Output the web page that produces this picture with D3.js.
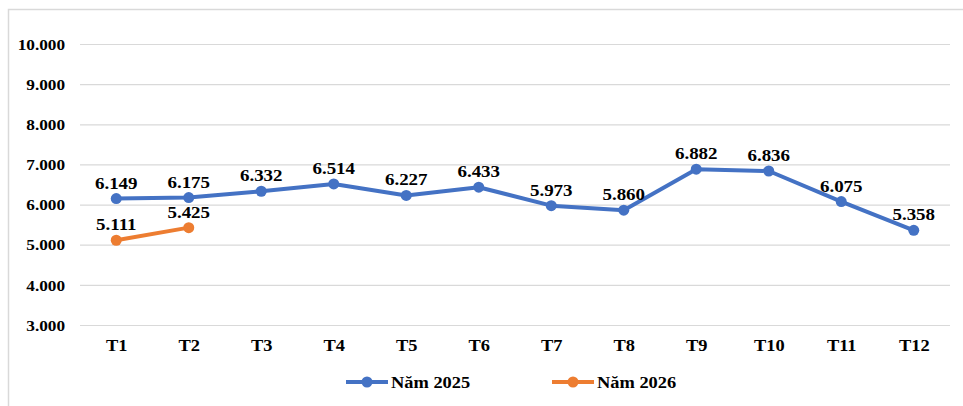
<!DOCTYPE html>
<html lang="vi">
<head>
  <meta charset="UTF-8">
  <title>Chart</title>
  <style>
    body { margin: 0; background: #fff; }
    text { font-family: 'Liberation Serif', 'Times New Roman', serif; font-weight: bold; fill: #000; }
  </style>
</head>
<body>
  <svg id="svg" width="963" height="406"></svg>
  <script src="https://d3js.org/d3.v7.min.js"></script>
  <script>
    const months = ['T1', 'T2', 'T3', 'T4', 'T5', 'T6', 'T7', 'T8', 'T9', 'T10', 'T11', 'T12']
    const values2025 = [6149, 6175, 6332, 6514, 6227, 6433, 5973, 5860, 6882, 6836, 6075, 5358]
    const values2026 = [5111, 5425]
    const yTicks = [3000, 4000, 5000, 6000, 7000, 8000, 9000, 10000]
    const seriesNames = ['Năm 2025', 'Năm 2026']
    const colors = ['#4472C4', '#ED7D31']

    const series = [values2025, values2026].map((vals, i) => ({
      name: seriesNames[i],
      color: colors[i],
      points: vals.map((v, j) => ({ month: months[j], value: v }))
    }))

    const vn = d3.formatLocale({ decimal: ',', thousands: '.', grouping: [3], currency: ['', ''] })
    const fmt = vn.format(',')
    const stretch = 'scale(1.15,1)'

    const svg = d3.select('#svg')

    // outer chart border (cropped on the right and bottom)
    svg.append('rect')
      .attr('x', 8.5).attr('y', 9.5)
      .attr('width', 1000).attr('height', 500)
      .attr('fill', 'none')
      .attr('stroke', '#d9d9d9')
      .attr('stroke-width', 1.5)

    const xScale = d3.scalePoint()
      .domain(months)
      .range([80, 950])
      .padding(0.5)
    const yScale = d3.scaleLinear()
      .domain([3000, 10000])
      .range([325, 44])

    // y axis + gridlines
    const leftAxis = d3.axisLeft(yScale)
      .tickValues(yTicks)
      .tickFormat(fmt)
      .tickSize(-870)
    const gy = svg.append('g')
      .attr('transform', 'translate(80,0)')
      .call(leftAxis)
    gy.select('.domain').remove()
    gy.selectAll('.tick line').attr('stroke', '#d9d9d9').attr('stroke-width', 1.2)
    gy.selectAll('.tick text')
      .attr('x', -13)
      .attr('dy', '0.35em')
      .attr('transform', stretch)
      .style('font-size', '15px')

    // x axis labels
    const bottomAxis = d3.axisBottom(xScale).tickSize(0)
    const gx = svg.append('g')
      .attr('transform', 'translate(0,325)')
      .call(bottomAxis)
    gx.select('.domain').remove()
    gx.selectAll('.tick text')
      .attr('y', 26)
      .attr('dy', 0)
      .attr('transform', stretch)
      .style('font-size', '16px')
    // keep tick text centred at the tick after stretch
    gx.selectAll('.tick').each(function () {
      d3.select(this).select('text').attr('x', 0)
    })

    const line = d3.line()
      .x(d => xScale(d.month))
      .y(d => yScale(d.value))

    const groups = svg.selectAll('g.series')
      .data(series)
      .enter()
      .append('g')
      .attr('class', 'series')

    groups.append('path')
      .attr('d', d => line(d.points))
      .attr('fill', 'none')
      .attr('stroke', d => d.color)
      .attr('stroke-width', 4)
      .attr('stroke-linejoin', 'round')

    groups.each(function (s) {
      const g = d3.select(this)
      g.selectAll('circle')
        .data(s.points)
        .enter()
        .append('circle')
        .attr('cx', d => xScale(d.month))
        .attr('cy', d => yScale(d.value))
        .attr('r', 5.5)
        .attr('fill', s.color)
      g.selectAll('text')
        .data(s.points)
        .enter()
        .append('text')
        .text(d => fmt(d.value))
        .attr('text-anchor', 'middle')
        .attr('transform', d => `translate(${xScale(d.month)},${yScale(d.value) - 10}) ${stretch}`)
        .style('font-size', '16.5px')
    })

    // legend
    const legend = svg.selectAll('g.legend')
      .data(series)
      .enter()
      .append('g')
      .attr('class', 'legend')
      .attr('transform', (d, i) => `translate(${346 + i * 206},382)`)
    legend.append('line')
      .attr('x1', 0).attr('x2', 42)
      .attr('stroke', d => d.color)
      .attr('stroke-width', 4)
    legend.append('circle')
      .attr('cx', 21)
      .attr('r', 5.5)
      .attr('fill', d => d.color)
    legend.append('text')
      .text(d => d.name)
      .attr('transform', `translate(45,5.5) ${stretch}`)
      .style('font-size', '16px')
  </script>
</body>
</html>
